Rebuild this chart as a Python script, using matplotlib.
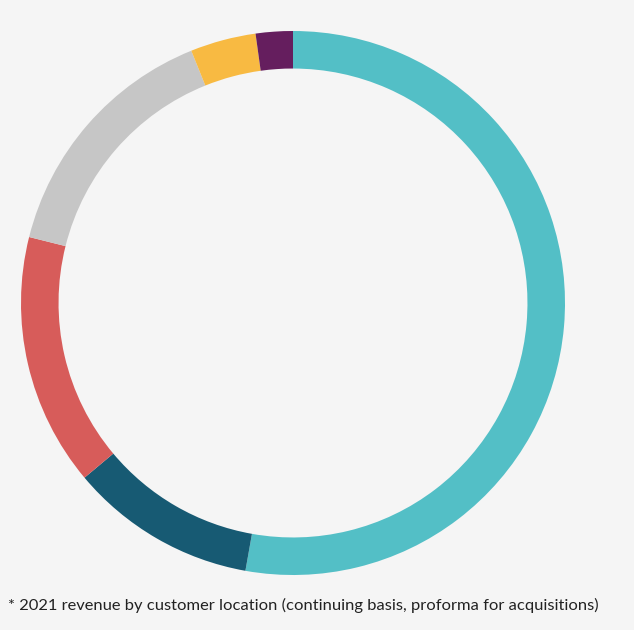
import matplotlib
matplotlib.use('Agg')
import matplotlib.pyplot as plt

# revenue share by customer location (%), clockwise from 12 o'clock
regions = ['Region A', 'Region B', 'Region C', 'Region D', 'Region E', 'Region F']
shares = [52.8, 11.1, 15.0, 15.0, 3.9, 2.2]
colors = ['#53BFC6', '#175A73', '#D75C5A', '#C6C6C6', '#F8BA42', '#651E5E']
footnote = '* 2021 revenue by customer location (continuing basis, proforma for acquisitions)'

bg = '#F5F5F5'
fig = plt.figure(figsize=(6.34, 6.30), dpi=100, facecolor=bg)
ax = fig.add_axes([21 / 634, 55 / 630, 544 / 634, 544 / 630])
ax.set_facecolor(bg)

ax.pie(shares, colors=colors, startangle=90, counterclock=False, radius=1.0,
       wedgeprops={'width': 0.138, 'linewidth': 0, 'antialiased': True})
ax.set_xlim(-1, 1)
ax.set_ylim(-1, 1)
ax.set_aspect('equal')
ax.axis('off')

fig.text(8 / 634, 1 - 605 / 630, footnote, fontsize=11.85, family='Lato',
         color='#222222', ha='left', va='center')

fig.savefig('out.png', dpi=100, facecolor=bg)
